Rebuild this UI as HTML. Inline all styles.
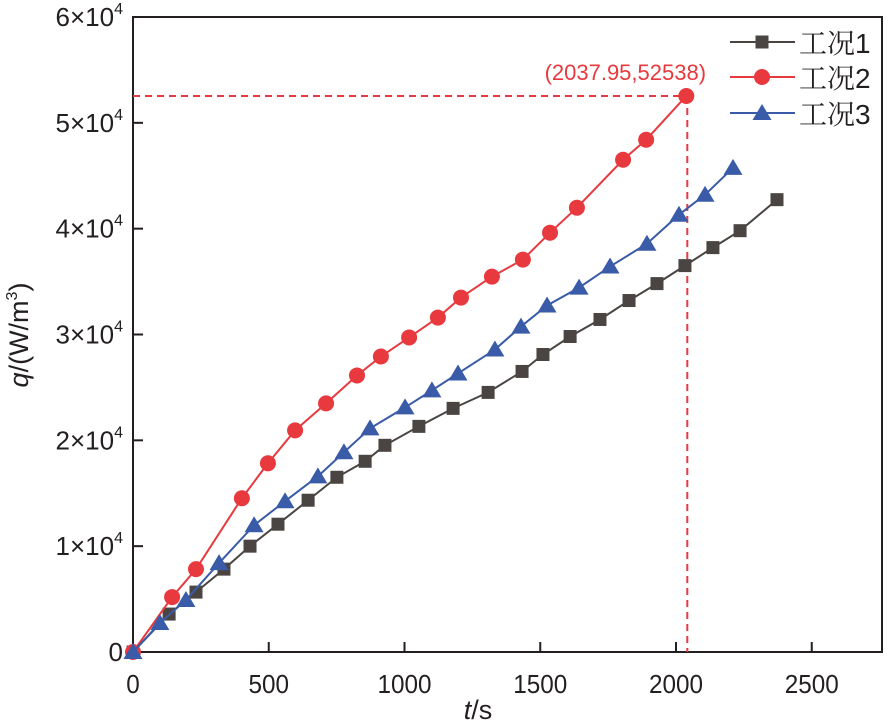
<!DOCTYPE html>
<html><head><meta charset="utf-8"><style>
body{margin:0;background:#fff;}
svg text{font-family:"Liberation Sans",Arial,sans-serif;}
</style></head><body>
<svg id="chart" width="889" height="721" xmlns="http://www.w3.org/2000/svg">
<g id="plot"></g>
</svg>
<script>
const xTicks=[0,500,1000,1500,2000,2500];
const yTicks=[0,10000,20000,30000,40000,50000,60000];
const yTickLabels=["0","1×10","2×10","3×10","4×10","5×10","6×10"];
const seriesNames=["工况","工况","工况"];
const seriesNums=["1","2","3"];
const t1=[0,133,232,335,431,534,645,751,855,928,1053,1179,1308,1433,1510,1610,1720,1827,1930,2033,2136,2236,2372];
const q1=[0,3585,5660,7830,10000,12075,14340,16510,18020,19530,21320,23020,24530,26510,28110,29810,31420,33210,34810,36510,38210,39810,42740];
const t2=[0,144,232,401,497,597,711,825,913,1017,1123,1208,1322,1436,1536,1635,1805,1890,2037.95];
const q2=[0,5190,7830,14530,17830,20940,23490,26130,27920,29720,31600,33490,35470,37080,39620,41980,46510,48400,52538];
const t3=[0,99,195,317,446,560,681,777,873,1002,1101,1197,1333,1429,1525,1643,1757,1893,2011,2107,2210];
const q3=[0,2740,4910,8400,11980,14250,16600,18870,21130,23110,24720,26320,28580,30750,32740,34430,36420,38580,41320,43210,45750];
const markT=2037.95, markQ=52538;

const NS="http://www.w3.org/2000/svg";
const X0=133,X1=882,Y0=652,Y1=17;
function xs(v){return X0+v*0.2715;}
function ys(v){return Y0-v*(Y0-Y1)/60000;}
const g=document.getElementById('plot');
function mk(tag,attrs,parent){const e=document.createElementNS(NS,tag);for(const k in attrs)e.setAttribute(k,attrs[k]);(parent||g).appendChild(e);return e;}

let fr=mk('rect',{x:X0,y:Y1,width:X1-X0,height:Y0-Y1,fill:'none',stroke:'#231f20','stroke-width':2});


xTicks.forEach(v=>{
  let l=mk('line',{x1:xs(v),x2:xs(v),y1:Y0,y2:Y0-10,stroke:'#231f20','stroke-width':2});
  
  
  let t=mk('text',{x:xs(v),y:Y0+41,'text-anchor':'middle','font-size':26,fill:'#231f20',textLength:String(v).length*13.5,lengthAdjust:'spacingAndGlyphs'});
  t.textContent=v;
  
  
});
yTicks.forEach((v,i)=>{
  let l=mk('line',{x1:X0,x2:X0+10,y1:ys(v),y2:ys(v),stroke:'#231f20','stroke-width':2});
  
  
  let t=mk('text',{x:X0-10,y:ys(v)+9,'text-anchor':'end','font-size':26,fill:'#231f20'});
  
  
  if(i===0){t.textContent='0';}
  else{t.textContent=yTickLabels[i];const s=mk('tspan',{'font-size':16,dy:-12},t);s.textContent='4';}
});
let dh=mk('line',{x1:X0,x2:xs(markT),y1:ys(markQ),y2:ys(markQ),stroke:'#e8393e','stroke-width':2,'stroke-dasharray':'7,5'});


let dv=mk('line',{x1:xs(markT)+1,x2:xs(markT)+1,y1:ys(markQ),y2:Y0,stroke:'#e8393e','stroke-width':2,'stroke-dasharray':'7,5'});



function marker(type,x,y,color,parent){
  if(type==='sq') return mk('rect',{x:x-6.5,y:y-6.5,width:13,height:13,fill:color},parent);
  if(type==='ci') return mk('circle',{cx:x,cy:y,r:8,fill:color},parent);
  return mk('polygon',{points:`${x},${y-9} ${x-9.5},${y+7} ${x+9.5},${y+7}`,fill:color},parent);
}
const series=[[t1,q1,'#4a4543','sq','series-case1'],[t2,q2,'#e8393e','ci','series-case2'],[t3,q3,'#3a5ba8','tr','series-case3']];
series.forEach(([ts,qs,c,m,name])=>{
  const sg=mk('g',{});
  
  
  const p=mk('polyline',{points:ts.map((t,i)=>xs(t)+','+ys(qs[i])).join(' '),fill:'none',stroke:c,'stroke-width':2},sg);
  
  
  ts.forEach((t,i)=>{
    const e=marker(m,xs(t),ys(qs[i]),c,sg);
    
    
  });
});
let an=mk('text',{x:xs(markT)-61,y:ys(markQ)-16,'text-anchor':'middle','font-size':22,fill:'#e8393e'});
an.textContent='('+markT+','+markQ+')';


const legY=[42,77,113];
series.forEach(([ts,qs,c,m,name],i)=>{
  const lg=mk('g',{});
  
  
  mk('line',{x1:730,x2:795,y1:legY[i],y2:legY[i],stroke:c,'stroke-width':2},lg);
  marker(m,762,legY[i],c,lg);
  const t=mk('text',{x:799,y:legY[i]+11,'font-size':28,fill:'#231f20'},lg);
  const a=mk('tspan',{style:'font-family:"Noto Serif CJK SC",serif'},t);
  a.textContent=seriesNames[i];
  const b=mk('tspan',{},t);
  b.textContent=seriesNums[i];
});
let xt=mk('text',{x:478,y:719,'text-anchor':'middle','font-size':27,fill:'#231f20'});


xt.innerHTML='<tspan font-style="italic">t</tspan>/s';
let yt=mk('text',{x:0,y:0,'text-anchor':'middle','font-size':27,fill:'#231f20',transform:'translate(28,335) rotate(-90)'});


yt.innerHTML='<tspan font-style="italic">q</tspan>/(W/m<tspan font-size="16" dy="-11">3</tspan><tspan dy="11">)</tspan>';
</script>
</body></html>
